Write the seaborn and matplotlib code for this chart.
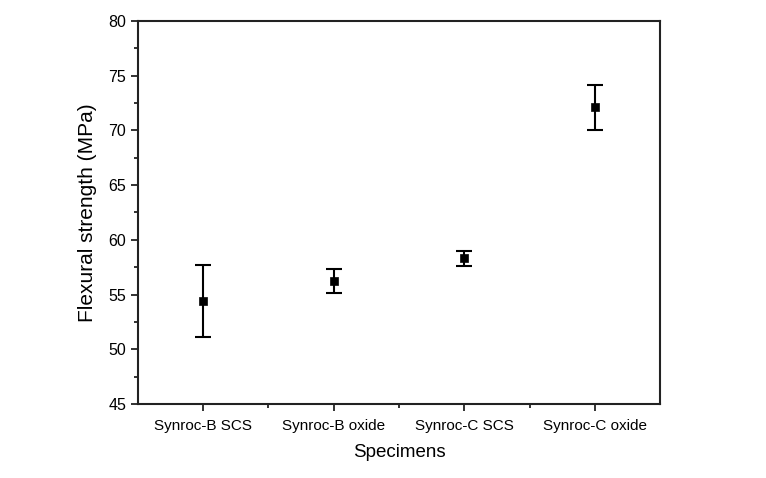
import numpy as np
import pandas as pd
import seaborn as sns
import matplotlib.pyplot as plt
from matplotlib.ticker import MultipleLocator, FixedLocator

## data
specimens = ["Synroc-B SCS", "Synroc-B oxide", "Synroc-C SCS", "Synroc-C oxide"]
strength = [54.4, 56.2, 58.3, 72.1]
strength_err = [3.3, 1.1, 0.7, 2.05]

df = pd.DataFrame({"Specimens": specimens, "Strength": strength, "Err": strength_err})

sns.set_style("ticks")
plt.rcParams["font.family"] = ["Liberation Sans", "DejaVu Sans"]
plt.rcParams["text.color"] = "black"
plt.rcParams["axes.labelcolor"] = "black"
plt.rcParams["xtick.labelcolor"] = "black"
plt.rcParams["ytick.labelcolor"] = "black"

fig = plt.figure(figsize=(7.66, 4.78), dpi=100)
ax = fig.add_axes([0.180, 0.155, 0.682, 0.801])

ax.errorbar(df["Specimens"], df["Strength"], yerr=df["Err"], fmt="none",
            ecolor="black", elinewidth=1.5, capsize=6, capthick=1.5, zorder=2)
sns.scatterplot(data=df, x="Specimens", y="Strength", marker="s", s=36,
                color="black", edgecolor="black", ax=ax, zorder=3)

ax.set_xlim(-0.5, 3.5)
ax.set_ylim(45, 80)
ax.yaxis.set_major_locator(MultipleLocator(5))
ax.yaxis.set_minor_locator(MultipleLocator(2.5))
ax.xaxis.set_minor_locator(FixedLocator([0.5, 1.5, 2.5]))

for s in ax.spines.values():
    s.set_visible(True)
    s.set_linewidth(1.5)
    s.set_color("#222222")

ax.tick_params(axis="both", which="major", direction="out", length=5, width=1.3,
               labelsize=11.5, color="#222222")
ax.tick_params(axis="both", which="minor", direction="out", length=3, width=1.3,
               color="#222222")
ax.tick_params(axis="x", labelsize=11, pad=6)

ax.set_xlabel("Specimens", fontsize=13.5, labelpad=8)
ax.set_ylabel("Flexural strength (MPa)", fontsize=15, labelpad=8)

fig.savefig("out.png", dpi=100)
